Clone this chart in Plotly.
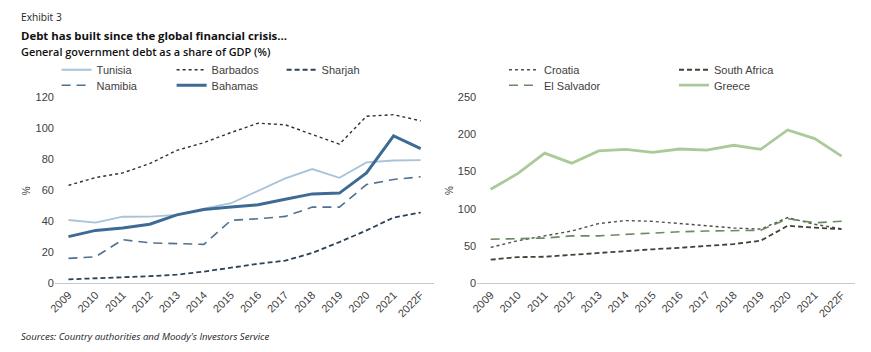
import plotly.graph_objects as go

years = ["2009", "2010", "2011", "2012", "2013", "2014", "2015", "2016", "2017",
         "2018", "2019", "2020", "2021", "2022F"]

# Left panel
tunisia = [40.7, 39.0, 42.8, 42.9, 44.0, 48.0, 51.5, 59.5, 67.5, 73.5, 67.8, 77.8, 79.0, 79.3]
barbados = [63.0, 68.0, 71.0, 77.0, 85.5, 90.5, 97.0, 103.0, 102.0, 96.0, 89.5, 107.5, 108.5, 104.5]
sharjah = [2.5, 3.2, 3.6, 4.5, 5.5, 7.5, 10.0, 12.5, 14.5, 19.5, 26.5, 34.0, 42.3, 45.5]
namibia = [16.0, 17.0, 28.0, 26.0, 25.5, 25.0, 40.5, 41.5, 43.0, 49.0, 49.0, 63.5, 66.8, 68.5]
bahamas = [30.0, 34.0, 35.5, 38.0, 44.0, 47.5, 49.0, 50.5, 54.0, 57.5, 58.0, 71.0, 94.8, 86.7]

# Right panel
croatia = [48.0, 57.0, 63.5, 70.0, 80.0, 84.0, 83.0, 80.0, 77.0, 74.0, 72.5, 88.0, 79.0, 73.0]
south_africa = [31.5, 35.0, 35.5, 38.0, 41.0, 44.0, 45.5, 47.5, 49.5, 52.5, 57.0, 77.0, 74.5, 72.5]
el_salvador = [59.0, 60.0, 60.5, 63.5, 63.5, 65.5, 67.5, 69.0, 70.0, 70.5, 71.0, 86.5, 81.0, 83.0]
greece = [126.0, 147.0, 174.5, 161.0, 177.5, 179.5, 175.5, 180.0, 178.5, 185.0, 179.5, 205.5, 194.0, 170.5]

W, H = 871, 352
FONT = "Liberation Sans, Arial, sans-serif"
TXT = "#404040"

fig = go.Figure()

def add(name, y, color, width, dash, xa, ya, leg, lw):
    fig.add_trace(go.Scatter(x=years, y=y, name=name, mode="lines",
                             line=dict(color=color, width=width, dash=dash),
                             xaxis=xa, yaxis=ya, legend=leg, legendwidth=lw))

add("Tunisia", tunisia, "#a9c3d8", 1.8, "solid", "x", "y", "legend", 70)
add("Barbados", barbados, "#2a3138", 1.4, "dot", "x", "y", "legend", 65)
add("Sharjah", sharjah, "#2c4257", 1.8, "5px,3px", "x", "y", "legend", 65)
add("Namibia", namibia, "#4f7292", 1.6, "9px,6px", "x", "y", "legend2", 70)
add("Bahamas", bahamas, "#3e6b94", 3.0, "solid", "x", "y", "legend2", 65)

add("Croatia", croatia, "#4d5046", 1.4, "dot", "x2", "y2", "legend3", 125)
add("South Africa", south_africa, "#3c4634", 1.8, "5px,3px", "x2", "y2", "legend3", 80)
add("El Salvador", el_salvador, "#6b8a5f", 1.6, "9px,6px", "x2", "y2", "legend4", 125)
add("Greece", greece, "#aacb99", 2.8, "solid", "x2", "y2", "legend4", 80)

ybot = 1 - 287 / H
ytop = 1 - 94 / H

xcommon = dict(type="category", range=[-0.5, 13.5], showline=True, linecolor="#c8c8c8",
               linewidth=1.2, showgrid=False, zeroline=False, ticks="", tickangle=-45,
               tickfont=dict(family=FONT, size=11, color=TXT))
ycommon = dict(showline=False, showgrid=False, zeroline=False, ticks="",
               tickfont=dict(family=FONT, size=11, color=TXT), domain=[ybot, ytop])

def legend_at(xpx, ypx):
    return dict(x=xpx / W, y=1 - ypx / H, xanchor="left", yanchor="middle",
                orientation="h", entrywidthmode="pixels",
                bgcolor="rgba(0,0,0,0)", font=dict(family=FONT, size=11, color=TXT),
                itemclick=False, itemdoubleclick=False, tracegroupgap=0)

fig.update_layout(
    width=W, height=H, margin=dict(l=0, r=0, t=0, b=0),
    paper_bgcolor="white", plot_bgcolor="white",
    xaxis=dict(xcommon, domain=[48.3 / W, 430.7 / W], anchor="y"),
    yaxis=dict(ycommon, range=[0, 120], dtick=20, anchor="x"),
    xaxis2=dict(xcommon, domain=[474 / W, 855 / W], anchor="y2"),
    yaxis2=dict(ycommon, range=[0, 250], dtick=50, anchor="x2"),
    legend=legend_at(50, 66),
    legend2=legend_at(50, 82),
    legend3=legend_at(501, 66),
    legend4=legend_at(501, 82),
    showlegend=True,
)

anns = [
    dict(text="Exhibit 3", x=12 / W, y=1 - 11 / H, font=dict(family="Open Sans", size=10.2, color="#222")),
    dict(text="<b>Debt has built since the global financial crisis...</b>", x=12 / W, y=1 - 31 / H,
         font=dict(family="Open Sans", size=11.4, color="#111")),
    dict(text="General government debt as a share of GDP (%)", x=12 / W, y=1 - 47 / H,
         font=dict(family="Open Sans", size=10.9, color="#111", weight=600)),
    dict(text="<i>Sources: Country authorities and Moody's Investors Service</i>", x=12 / W, y=1 - 342 / H,
         font=dict(family="Open Sans", size=9.6, color="#222")),
]
for a in anns:
    fig.add_annotation(xref="paper", yref="paper", xanchor="left", yanchor="middle",
                       showarrow=False, **a)
for xp in (20, 446):
    fig.add_annotation(text="%", xref="paper", yref="paper", x=xp / W, y=1 - 191 / H,
                       textangle=-90, showarrow=False, xanchor="center", yanchor="middle",
                       font=dict(family=FONT, size=10, color=TXT))

fig.write_html("out.html")
